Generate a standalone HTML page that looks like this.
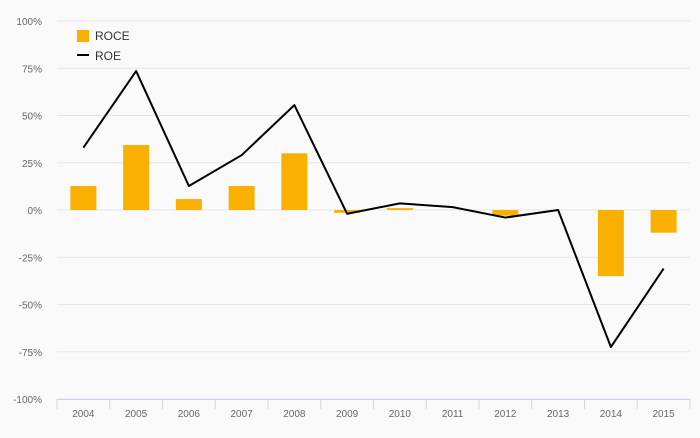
<!DOCTYPE html>
<html><head><meta charset="utf-8"><style>
body{margin:0;background:#fafafa;font-family:"Liberation Sans",sans-serif}
svg text{font-family:"Liberation Sans",sans-serif}
</style></head><body>
<svg id="c" width="700" height="433" xmlns="http://www.w3.org/2000/svg"></svg>
<script>
const categories=["2004","2005","2006","2007","2008","2009","2010","2011","2012","2013","2014","2015"];
const roce=[12.7,34.4,5.8,12.7,30,-1.5,1,0,-3,0,-35,-12];
const roe=[33,73.5,12.7,29,55.5,-2,3.5,1.5,-4,0,-72.5,-31];
const yTicks=[100,75,50,25,0,-25,-50,-75,-100];
const svg=document.getElementById('c');
const NS='http://www.w3.org/2000/svg';
const x0=57,x1=690,yTop=21,yBot=399;
const bw=(x1-x0)/categories.length;
const xc=i=>x0+bw*(i+0.5);
const y=v=>yTop+(100-v)/200*(yBot-yTop);
function mk(t,a,p){const e=document.createElementNS(NS,t);for(const k in a)e.setAttribute(k,a[k]);(p||svg).appendChild(e);return e;}
yTicks.forEach(t=>{
 const g=mk('line',{x1:x0,x2:x1,y1:y(t),y2:y(t),stroke:'#e6e6e6','stroke-width':1});
 
 
 const l=mk('text',{x:42,y:y(t)+4,'text-anchor':'end','font-size':10,fill:'#666'});
 l.textContent=t+'%';
 
 
});
const ax=mk('line',{x1:x0,x2:x1,y1:yBot+0.5,y2:yBot+0.5,stroke:'#ccd6eb'});


for(let i=0;i<=categories.length;i++){
 const tk=mk('line',{x1:x0+bw*i,x2:x0+bw*i,y1:yBot,y2:yBot+10,stroke:'#ccd6eb'});
 
 
}
categories.forEach((c,i)=>{
 const l=mk('text',{x:xc(i),y:417,'text-anchor':'middle','font-size':10,fill:'#666'});
 l.textContent=c;
 
 
 const v=roce[i];const top=Math.min(y(v),y(0));const h=Math.abs(y(v)-y(0));
 const b=mk('rect',{x:xc(i)-13,y:top,width:26,height:Math.max(h,0),fill:'#f9b000'});
 
 
});
const pl=mk('polyline',{points:roe.map((v,i)=>xc(i)+','+y(v)).join(' '),fill:'none',stroke:'#000','stroke-width':2,'stroke-linejoin':'round'});


const lg=mk('g',{});


const r1=mk('rect',{x:77,y:30,width:12,height:12,fill:'#f9b000'},lg);


const t1=mk('text',{x:95,y:40,'font-size':12,fill:'#333'},lg);t1.textContent='ROCE';


const r2=mk('line',{x1:77,x2:89,y1:55,y2:55,stroke:'#000','stroke-width':2},lg);


const t2=mk('text',{x:95,y:60,'font-size':12,fill:'#333'},lg);t2.textContent='ROE';


</script>
</body></html>
